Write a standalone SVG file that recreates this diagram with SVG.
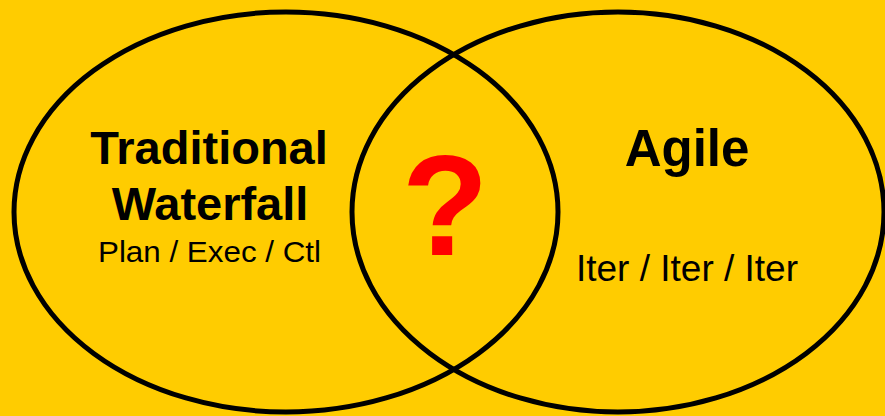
<svg xmlns="http://www.w3.org/2000/svg" width="885" height="416" viewBox="0 0 885 416">
<style>
.circ{fill:none;stroke:#000;stroke-width:5}
.t{font-family:"Liberation Sans",Arial,sans-serif;text-anchor:middle;fill:#000}
.b{font-weight:bold}
</style>
<rect width="885" height="416" fill="#FFCC00"/>
<g id="waterfall">
<ellipse class="circ" cx="286" cy="212" rx="272" ry="200"/>
<text class="t b" x="209" y="164" font-size="47">Traditional</text>
<text class="t b" x="210" y="220" font-size="47">Waterfall</text>
<text class="t" x="209.5" y="262" font-size="30" textLength="223" lengthAdjust="spacingAndGlyphs">Plan / Exec / Ctl</text>
</g>
<g id="agile">
<ellipse class="circ" cx="618" cy="212" rx="266" ry="200"/>
<text class="t b" x="687" y="166" font-size="51">Agile</text>
<text class="t" x="687" y="281" font-size="37">Iter / Iter / Iter</text>
</g>
<g id="overlap">
<text class="t b" x="445" y="255" font-size="142" style="fill:#FF0000">?</text>
</g>
<g id="connectors"/>
</svg>
